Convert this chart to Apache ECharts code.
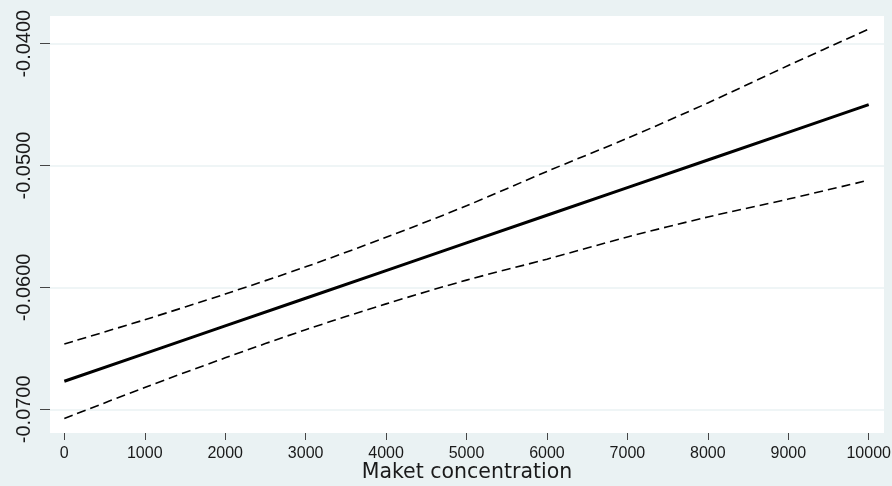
<!DOCTYPE html>
<html>
<head>
<meta charset="utf-8">
<script src="https://cdn.jsdelivr.net/npm/echarts@6/dist/echarts.min.js"></script>
<style>
html,body{margin:0;padding:0;background:#eaf2f3;}
#chart{width:892px;height:486px;}
</style>
</head>
<body>
<div id="chart"></div>
<script>
var concentration = [0, 1000, 2000, 3000, 4000, 5000, 6000, 7000, 8000, 9000, 10000];
var effect = [-0.0677, -0.06543, -0.06316, -0.06089, -0.05862, -0.05635, -0.05408, -0.05181, -0.04954, -0.04727, -0.0450];
var upperCI = [-0.06464, -0.06265, -0.06054, -0.05831, -0.05589, -0.05330, -0.05048, -0.04776, -0.04486, -0.04179, -0.03880];
var lowerCI = [-0.07076, -0.06821, -0.06578, -0.06347, -0.06135, -0.05940, -0.05768, -0.05586, -0.05422, -0.05275, -0.05120];
var xTicks = [0, 1000, 2000, 3000, 4000, 5000, 6000, 7000, 8000, 9000, 10000];
var yTicks = [-0.07, -0.06, -0.05, -0.04];
var xTitle = 'Maket concentration';

function pairs(xs, ys) { return xs.map(function (x, i) { return [x, ys[i]]; }); }

var chart = echarts.init(document.getElementById('chart'), null, {renderer: 'canvas'});
chart.setOption({
  animation: false,
  backgroundColor: '#eaf2f3',
  grid: {left: 50, top: 16, right: 8, bottom: 53, show: true, backgroundColor: '#ffffff', borderWidth: 0,
    containLabel: false, outerBoundsMode: 'none'},
  xAxis: {
    type: 'value', min: -178, max: 10190,
    name: xTitle, nameLocation: 'middle', nameGap: 29, nameMoveOverlap: false,
    nameTextStyle: {fontFamily: 'DejaVu Sans', fontSize: 20.5, color: '#1a1a1a'},
    axisLine: {show: false, onZero: false},
    axisTick: {show: true, length: 7, customValues: xTicks, lineStyle: {color: '#444', width: 1}},
    axisLabel: {customValues: xTicks, margin: 13, fontFamily: 'Liberation Sans', fontSize: 16, color: '#1a1a1a',
      formatter: function (v) { return String(v); }},
    splitLine: {show: false}
  },
  yAxis: {
    type: 'value', min: -0.071945, max: -0.037727,
    axisLine: {show: false, onZero: false},
    axisTick: {show: true, length: 10, customValues: yTicks, lineStyle: {color: '#444', width: 1}},
    axisLabel: {customValues: yTicks, rotate: 90, margin: 16, fontFamily: 'Liberation Sans', fontSize: 20, color: '#1a1a1a',
      formatter: function (v) { return v.toFixed(4); }},
    splitLine: {show: true, lineStyle: {color: '#eaf2f3', width: 1.5}}
  },
  series: [
    {type: 'line', data: pairs(concentration, upperCI), showSymbol: false, smooth: 0.3,
      lineStyle: {color: '#000', width: 1.6, type: [9, 5]}},
    {type: 'line', data: pairs(concentration, lowerCI), showSymbol: false, smooth: 0.3,
      lineStyle: {color: '#000', width: 1.6, type: [9, 5]}},
    {type: 'line', data: pairs(concentration, effect), showSymbol: false,
      lineStyle: {color: '#000', width: 3}}
  ]
});
</script>
</body>
</html>
